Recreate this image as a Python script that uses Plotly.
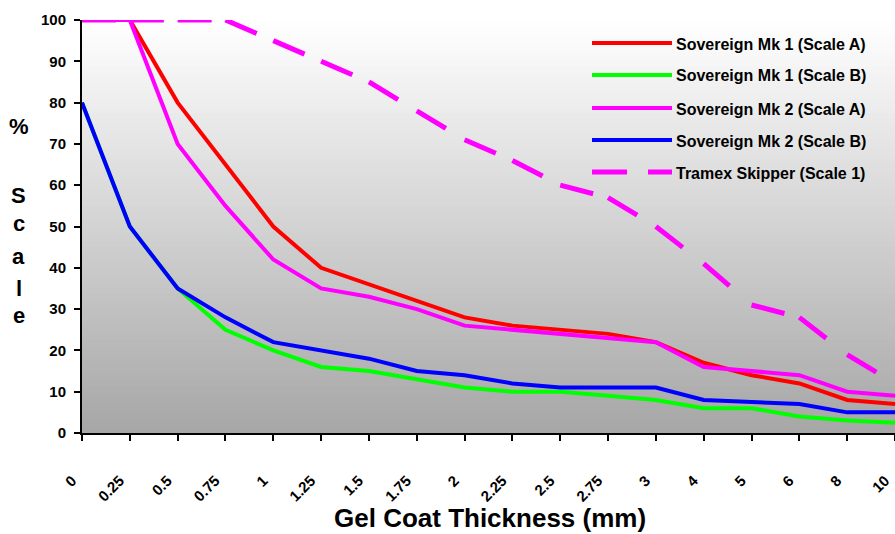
import plotly.graph_objects as go

# ---------------- data ----------------
thickness = ["0", "0.25", "0.5", "0.75", "1", "1.25", "1.5", "1.75", "2", "2.25",
             "2.5", "2.75", "3", "4", "5", "6", "8", "10"]
mk1_scale_a = [100, 100, 80, 65, 50, 40, 36, 32, 28, 26, 25, 24, 22, 17, 14, 12, 8, 7]
mk1_scale_b = [80, 50, 35, 25, 20, 16, 15, 13, 11, 10, 10, 9, 8, 6, 6, 4, 3, 2.5]
mk2_scale_a = [100, 100, 70, 55, 42, 35, 33, 30, 26, 25, 24, 23, 22, 16, 15, 14, 10, 9]
mk2_scale_b = [80, 50, 35, 28, 22, 20, 18, 15, 14, 12, 11, 11, 11, 8, 7.5, 7, 5, 5]
tramex = [100, 100, 100, 100, 95, 90, 85, 78, 71, 66, 60, 57, 50, 41, 31, 28, 19, 12]

series_names = ["Sovereign Mk 1 (Scale A)", "Sovereign Mk 1 (Scale B)",
                "Sovereign Mk 2 (Scale A)", "Sovereign Mk 2 (Scale B)",
                "Tramex Skipper (Scale 1)"]
y_tick_vals = [0, 10, 20, 30, 40, 50, 60, 70, 80, 90, 100]
y_title_letters = ["%", "S", "c", "a", "l", "e"]
x_title = "Gel Coat Thickness (mm)"

# ---------------- layout geometry (pixels) ----------------
W, H = 895, 534
L, R, T, B = 82, 0, 20, 101
PW, PH = W - L - R, H - T - B
FONT = "Liberation Sans, Arial, sans-serif"


def px(xp):
    return (xp - L) / PW


def py(yp):
    return (H - B - yp) / PH


colors = ["#ff0000", "#00ff00", "#ff00ff", "#0000ff", "#ff00ff"]
solid_series = [mk1_scale_a, mk1_scale_b, mk2_scale_a, mk2_scale_b]

fig = go.Figure()

for name, vals, col in zip(series_names[:4], solid_series, colors[:4]):
    fig.add_trace(go.Scatter(x=thickness, y=vals, mode="lines", name=name,
                             line=dict(color=col, width=4), cliponaxis=False,
                             showlegend=False))

# dashed series: dash pattern restarts at every vertex (as in the original)
for i in range(len(thickness) - 1):
    fig.add_trace(go.Scatter(x=thickness[i:i + 2], y=tramex[i:i + 2], mode="lines",
                             name=series_names[4],
                             line=dict(color=colors[4], width=5, dash="34px,40px"),
                             cliponaxis=False, showlegend=False))

shapes = []
# vertical gradient background of the plot area
N = 80
for k in range(N):
    f = (k + 0.5) / N  # 0 bottom -> 1 top
    g = int(round(166 + (255 - 166) * f))
    shapes.append(dict(type="rect", xref="x domain", yref="y domain",
                       x0=0, x1=1, y0=k / N, y1=(k + 1) / N + 0.002,
                       fillcolor=f"rgb({g},{g},{g})", line=dict(width=0),
                       layer="below"))

annotations = []
# custom legend
leg_y = [43, 75, 108, 140, 172]
for name, col, yy, i in zip(series_names, colors, leg_y, range(5)):
    shapes.append(dict(type="line", xref="paper", yref="paper",
                       x0=px(592), x1=px(672), y0=py(yy), y1=py(yy),
                       line=dict(color=col, width=5 if i == 4 else 4,
                                 dash="35px,21px" if i == 4 else "solid")))
    annotations.append(dict(text=name, xref="paper", yref="paper",
                            x=px(674), y=py(yy + 1), xanchor="left", yanchor="middle",
                            showarrow=False,
                            font=dict(family=FONT, size=16, color="black", weight="bold")))

# stacked y-axis title
letter_y = [126, 195, 223, 256, 288, 316]
for ch, yy in zip(y_title_letters, letter_y):
    annotations.append(dict(text=ch, xref="paper", yref="paper", x=px(19), y=py(yy),
                            xanchor="center", yanchor="middle", showarrow=False,
                            font=dict(family=FONT, size=22, color="black", weight="bold")))

annotations.append(dict(text=x_title, xref="paper", yref="paper", x=px(490), y=py(518),
                        xanchor="center", yanchor="middle", showarrow=False,
                        font=dict(family=FONT, size=26, color="black", weight="bold")))

fig.update_layout(
    width=W, height=H,
    margin=dict(l=L, r=R, t=T, b=B, autoexpand=False),
    paper_bgcolor="white", plot_bgcolor="white",
    font=dict(family=FONT, color="black"),
    shapes=shapes, annotations=annotations,
    showlegend=False,
    xaxis=dict(type="category", range=[0, len(thickness) - 1], showgrid=False,
               zeroline=False,
               showline=True, linecolor="black", linewidth=2,
               ticks="outside", ticklen=6, tickwidth=2, tickcolor="black",
               tickangle=-45, tickfont=dict(family=FONT, size=15, weight="bold"),
               ticklabelstandoff=25, ticklabelshift=-10),
    yaxis=dict(range=[0, 100], tickvals=y_tick_vals, showgrid=False, zeroline=False,
               showline=True, linecolor="black", linewidth=2,
               ticks="outside", ticklen=6, tickwidth=2, tickcolor="black",
               tickfont=dict(family=FONT, size=15, weight="bold"),
               ticklabelstandoff=5),
)

fig.write_html("out.html")
